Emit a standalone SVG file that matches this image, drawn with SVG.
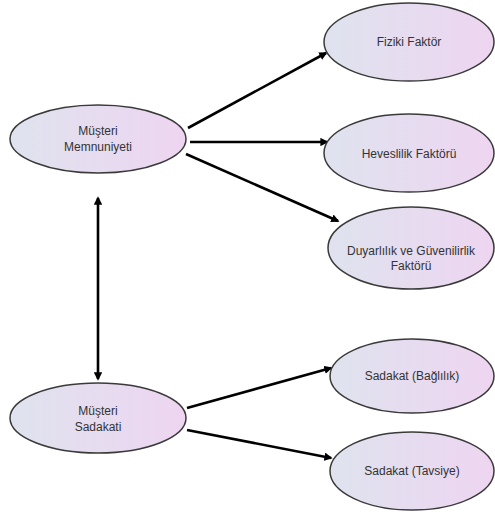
<svg xmlns="http://www.w3.org/2000/svg" width="495" height="519" viewBox="0 0 495 519">
<defs>
<linearGradient id="g" x1="0" y1="0" x2="1" y2="0">
<stop offset="0" stop-color="#dfe3ee"/>
<stop offset="1" stop-color="#eed5f1"/>
</linearGradient>
<marker id="ah" viewBox="0 0 10 10" refX="8" refY="5" markerWidth="3.2" markerHeight="3.2" orient="auto-start-reverse">
<path d="M0,0 L10,5 L0,10 Z" fill="#000"/>
</marker>
<style>
.n ellipse{fill:url(#g);stroke:#3a3a3a;stroke-width:1.5}
.n text{font-family:"Liberation Sans",Arial,sans-serif;font-size:12px;fill:#333;text-anchor:middle}
.c line{stroke:#000;stroke-width:2.6;marker-end:url(#ah)}
</style>
</defs>
<rect width="495" height="519" fill="#fff"/>
<g class="c" id="connectors">
<line x1="188" y1="128" x2="326" y2="53"/>
<line x1="190" y1="142" x2="327" y2="142"/>
<line x1="186" y1="154" x2="338" y2="221"/>
<line x1="98" y1="198" x2="98" y2="379" marker-start="url(#ah)"/>
<line x1="187" y1="408" x2="331" y2="368"/>
<line x1="187" y1="430" x2="331" y2="458"/>
</g>
<g class="n" id="n-memnuniyeti">
<ellipse cx="98" cy="139" rx="88" ry="34"/>
<text x="98" y="135">Müşteri</text>
<text x="98" y="151">Memnuniyeti</text>
</g>
<g class="n" id="n-sadakati">
<ellipse cx="98" cy="418" rx="88" ry="35"/>
<text x="98" y="415">Müşteri</text>
<text x="98" y="431">Sadakati</text>
</g>
<g class="n" id="n-fiziki">
<ellipse cx="409" cy="42" rx="85" ry="39"/>
<text x="409" y="46">Fiziki Faktör</text>
</g>
<g class="n" id="n-heveslilik">
<ellipse cx="409" cy="153" rx="85" ry="39"/>
<text x="409" y="158">Heveslilik Faktörü</text>
</g>
<g class="n" id="n-duyarlilik">
<ellipse cx="411" cy="248" rx="83" ry="41"/>
<text x="411" y="255">Duyarlılık ve Güvenilirlik</text>
<text x="411" y="270">Faktörü</text>
</g>
<g class="n" id="n-baglilik">
<ellipse cx="412" cy="376" rx="82" ry="37"/>
<text x="412" y="380">Sadakat (Bağlılık)</text>
</g>
<g class="n" id="n-tavsiye">
<ellipse cx="412" cy="471" rx="82" ry="39"/>
<text x="412" y="475">Sadakat (Tavsiye)</text>
</g>
</svg>
